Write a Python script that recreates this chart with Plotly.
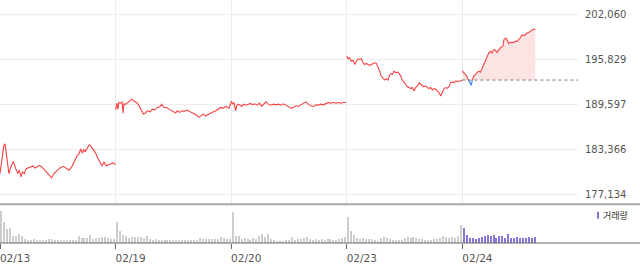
import plotly.graph_objects as go

# ---------------- data ----------------
dates = ["02/13", "02/19", "02/20", "02/23", "02/24"]
session_minutes = 390  # 09:00-15:30

d1_min = [0,6,13,17,22,30,37,45,53,60,65,71,76,82,88,96,107,112,118,124,133,141,152,163,174,182,191,202,214,222,
          233,242,250,259,267,272,278,283,288,295,301,306,312,321,328,337,344,351,358,366,375,382,390]
d1_px = [180060,181889,183951,184185,182810,180060,181022,181751,180747,180060,180514,179606,180294,180060,180747,
         180844,181064,181119,180844,180981,181201,180981,180514,180060,179469,180060,180431,180844,181064,180844,
         180514,180981,181669,182439,182810,183497,182906,183360,183126,183731,184047,183869,183497,183044,182356,
         181531,181119,181669,181119,181297,181435,181531,181297]

d2_min = [0,4,8,11,17,22,25,28,35,42,49,54,60,68,76,85,94,101,107,116,124,132,141,150,155,163,172,180,188,195,
          203,208,216,223,231,240,248,256,264,273,281,289,296,304,312,321,330,338,345,354,363,371,379,383,390]
d2_px = [188901,189822,188997,189919,189822,190001,188447,189685,189685,189919,
         190139,190372,190139,190001,189685,188997,188310,188447,188764,188626,
         188997,188901,189231,189369,189685,189231,189231,188997,188764,188681,
         188447,188764,188544,188764,188681,188860,188681,188544,188310,188172,
         187856,188076,188310,188076,188269,188447,188626,188764,188997,189231,
         189135,189369,189231,189135,190001]

d3_min = [0,5,9,15,18,24,30,35,41,49,58,66,72,80,88,95,103,111,117,125,133,142,151,159,167,176,184,193,202,210,
          219,226,234,243,252,260,268,277,286,294,302,311,320,328,336,345,354,361,370,378,387]
d3_px = [190139,189685,189919,188764,189451,189685,189547,189369,189685,189547,
         189685,189781,189589,189726,189547,189822,189369,189685,190001,189685,
         189547,189685,189589,189685,189547,189726,189547,189314,189135,189231,
         189451,189369,189547,189685,190001,189685,189451,189369,189589,189547,
         189685,189589,189781,189919,189822,189919,189822,189919,189822,189919,
         189919]

d4_min = [0,4,10,15,21,27,32,38,43,49,55,60,66,72,77,83,88,94,100,105,111,116,122,128,133,139,144,148,154,159,
          165,171,176,182,187,193,199,204,210,215,221,227,232,238,244,249,255,260,266,272,277,283,289,294,300,305,
          311,317,322,328,334,339,345,350,356,362,367,373,379,384,390]
d4_px = [196326,195969,196106,195639,195776,195185,195639,195969,195872,195969,
         195419,195185,195322,195185,195047,195185,195322,195419,195322,194869,
         194264,193576,193219,193026,193219,193026,193672,193906,193810,194264,
         194044,194126,193947,193576,193026,192669,192339,192119,191981,191844,
         191981,191514,191981,192201,192669,192435,192201,192119,192201,191981,
         191844,191981,191651,191844,191747,191514,191294,190826,191294,191844,
         191981,191885,192119,192669,192751,192669,192889,192806,192889,192889,
         193026]

d5_min = [0,4,10,16,19,23,28,30,34,38,44,49,55,61,66,72,77,83,89,94,100,105,111,117,122,128,134,137,140,146,
          152,156,162,167,173,179,184,190,195,201,207,212,218,224,229,235,240,246]
d5_px = [194360,194044,193810,193494,193122,192806,192572,192297,193122,193576,
         193810,194044,194264,194126,194594,195185,195639,196326,196794,197014,
         196794,197247,197151,196876,197247,197481,197701,197797,198622,198856,
         198526,198072,198251,198251,198251,198389,198389,198622,198856,199310,
         199172,199310,199544,199626,199764,199997,200094,199997]

prev_close = 193026

# volume, thousand shares, 10-minute bars
vol_step = 10
vol_d1 = [32.7,21,14,15,7,7.7,9,7,4,3.3,3.7,4.3,3.3,3.7,3.3,3.7,4.7,4,3.3,3,3.3,3,3.3,3,3.7,3.3,7.7,5,5,5.7,
          8.7,4,5.7,5.3,6.7,6.7,5,4.3,4.3]
vol_d2 = [21,12,8.7,7.7,5.5,6.7,6.3,6,6.7,5,7.3,4,3.3,4.7,3.3,3,3.3,3,3.3,3,3.3,3,3.3,3.3,3,3.3,3.3,3.7,5.3,4,
          4,4,4,4,4.3,6.7,5.3,4.3,4.7]
vol_d3 = [31,7.2,7.7,4,5,4,3.3,5.7,4.7,7.3,9.3,6.7,9.3,4,3.3,2.7,2.7,2.7,3,3.3,6.7,3.3,4,4.7,5.7,6.7,4.7,3.3,4,3.3,
          4,3.3,4,4,3.3,3.3,4,5,6.7]
vol_d4 = [26.7,12,8,5,4,5,4,4.7,4,3.3,2.7,5,6.7,5.3,4,3.3,3.3,3.3,3.3,5.7,6.7,5,6.7,5.7,4.7,4,3.3,3.3,3.3,4,
          4,5,7.3,6.7,5.3,6.7,5.7,7.3,18.3]
vol_d5 = [15,8.3,5.7,5,4.7,5,6.7,7.7,8.3,7,8.3,5.7,7.5,7.5,5.7,9.3,5,5,6,5.7,5.7,5.5,6,5.7,6.7]

ytick_vals = [177134, 183366, 189597, 195829, 202060]

# ---------------- styling ----------------
RED = "#f54242"
BLUE = "#3f7fe3"
PINK = "#fde4e4"
LBLUE = "#dde7fa"
GRID = "#ececec"
GRAYBAR = "#cdcdcd"
PURPLE = "#8977d8"
TXT = "#555555"
FONT = "DejaVu Sans"

W, H = 640, 264
M_R, M_B = 62, 19
plot_w = W - M_R
plot_h = H - M_B

def py(pix):  # paper y from pixel row
    return (plot_h - pix) / plot_h

def pxr(pix):  # paper x from pixel col
    return pix / plot_w

# y-range derived from tick rows (202060 at row 15, 177134 at row 196.3; panel bottom row 206)
k = (ytick_vals[-1] - ytick_vals[0]) / (196.3 - 15)
y_top = ytick_vals[-1] + 15 * k
y_bot = ytick_vals[-1] - (206 - 15) * k

fig = go.Figure()

days = [(d1_min, d1_px), (d2_min, d2_px), (d3_min, d3_px), (d4_min, d4_px)]
off5 = 4 * session_minutes

# day 5 with crossing points
X = [d5_min[0] + off5]; Y = [d5_px[0]]
for i in range(1, len(d5_min)):
    y0, y1 = d5_px[i-1], d5_px[i]
    x0, x1 = d5_min[i-1] + off5, d5_min[i] + off5
    if (y0 - prev_close) * (y1 - prev_close) < 0:
        t = (prev_close - y0) / (y1 - y0)
        X.append(x0 + t * (x1 - x0)); Y.append(prev_close)
    X.append(x1); Y.append(y1)

base = [prev_close] * len(X)
upper = [max(v, prev_close) for v in Y]
lower = [min(v, prev_close) for v in Y]

fig.add_trace(go.Scatter(x=X, y=base, mode="lines", line=dict(width=0), hoverinfo="skip", showlegend=False))
fig.add_trace(go.Scatter(x=X, y=upper, mode="lines", line=dict(width=0), fill="tonexty", fillcolor=PINK,
                         hoverinfo="skip", showlegend=False))
fig.add_trace(go.Scatter(x=X, y=base, mode="lines", line=dict(width=0), hoverinfo="skip", showlegend=False))
fig.add_trace(go.Scatter(x=X, y=lower, mode="lines", line=dict(width=0), fill="tonexty", fillcolor=LBLUE,
                         hoverinfo="skip", showlegend=False))

for d, (mins, prices) in enumerate(days):
    fig.add_trace(go.Scatter(x=[m + d * session_minutes for m in mins], y=prices, mode="lines",
                             line=dict(color=RED, width=1.1), showlegend=False))

red_y = [v if v >= prev_close else None for v in Y]
blue_y = [v if v <= prev_close else None for v in Y]
fig.add_trace(go.Scatter(x=X, y=red_y, mode="lines", line=dict(color=RED, width=1.1), showlegend=False,
                         connectgaps=False))
fig.add_trace(go.Scatter(x=X, y=blue_y, mode="lines", line=dict(color=BLUE, width=1.1), showlegend=False,
                         connectgaps=False))

# volume
for d, vols in enumerate([vol_d1, vol_d2, vol_d3, vol_d4, vol_d5]):
    xs = [d * session_minutes + i * vol_step + vol_step / 2 for i in range(len(vols))]
    fig.add_trace(go.Bar(x=xs, y=vols, width=3.4, marker=dict(color=PURPLE if d == 4 else GRAYBAR, line=dict(width=0)),
                         xaxis="x2", yaxis="y2", showlegend=False))

day_starts = [i * session_minutes for i in range(len(dates))]

fig.update_layout(
    width=W, height=H,
    margin=dict(l=0, r=M_R, t=0, b=M_B),
    paper_bgcolor="white", plot_bgcolor="white",
    bargap=0,
    xaxis=dict(domain=[0, 1], range=[0, 5 * session_minutes], tickvals=day_starts[1:], showticklabels=False,
               showgrid=True, gridcolor=GRID, gridwidth=1, zeroline=False, showline=False, anchor="y"),
    yaxis=dict(domain=[py(206), 1], range=[y_bot, y_top], side="right", tickvals=ytick_vals, tickformat=",",
               showgrid=True, gridcolor=GRID, gridwidth=1, zeroline=False, showline=False, ticks="",
               ticklabelstandoff=6, tickfont=dict(family=FONT, size=10, color=TXT), anchor="x"),
    xaxis2=dict(domain=[0, 1], range=[0, 5 * session_minutes], tickvals=day_starts, ticktext=dates,
                ticks="outside", ticklen=5, tickcolor="#666", tickwidth=1, showgrid=False, zeroline=False,
                showline=False, anchor="y2", ticklabelshift=15, ticklabeloverflow="allow",
                tickfont=dict(family=FONT, size=10.5, color=TXT)),
    yaxis2=dict(domain=[0, py(207.5)], range=[0, 37.5], showticklabels=False, showgrid=False, zeroline=False,
                ticks="", anchor="x2"),
    shapes=[
        dict(type="line", xref="x", yref="y", x0=off5, x1=5 * session_minutes, y0=prev_close, y1=prev_close,
             line=dict(color="#777777", width=1, dash="dot")),
        dict(type="line", xref="paper", yref="paper", x0=0, x1=W / plot_w, y0=py(206), y1=py(206),
             line=dict(color="#a8a8a8", width=2)),
        dict(type="line", xref="paper", yref="paper", x0=0, x1=W / plot_w, y0=0, y1=0,
             line=dict(color="#666666", width=1)),
        dict(type="rect", xref="paper", yref="paper", x0=pxr(597), x1=pxr(599), y0=py(220.5), y1=py(213.5),
             line=dict(width=0), fillcolor=PURPLE),
    ],
    annotations=[
        dict(text="거래량", xref="paper", yref="paper", x=pxr(600.5), y=py(217), xanchor="left", yanchor="middle",
             showarrow=False, font=dict(family="Noto Sans CJK KR", size=9, color="#333333")),
    ],
)

fig.write_html("out.html")
